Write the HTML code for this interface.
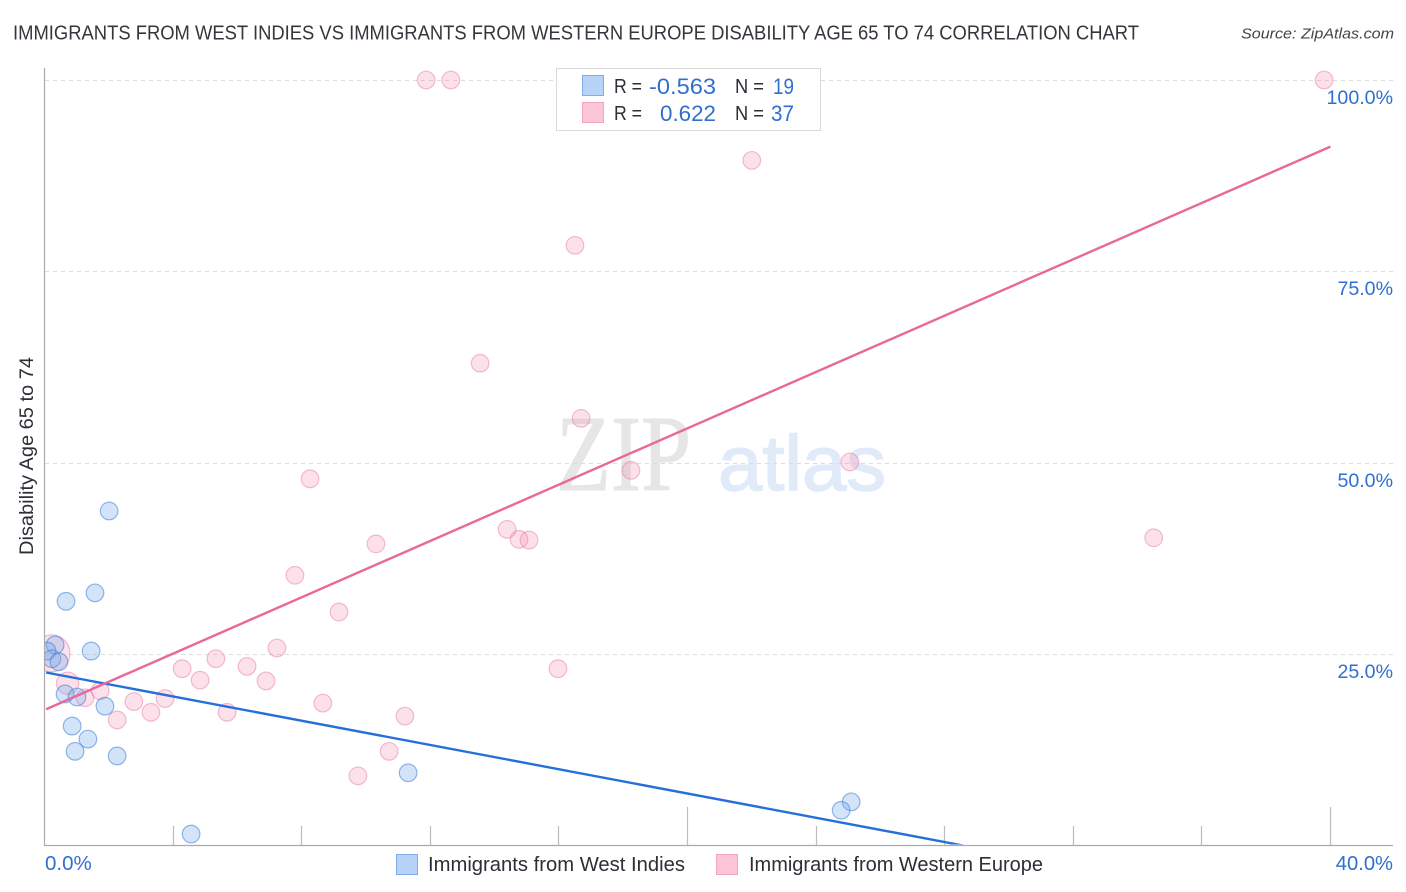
<!DOCTYPE html>
<html lang="en">
<head>
<meta charset="utf-8">
<title>Immigrants from West Indies vs Immigrants from Western Europe Disability Age 65 to 74 Correlation Chart</title>
<style>
html,body{margin:0;padding:0;background:#fff;width:1406px;height:892px;overflow:hidden}
svg{display:block;font-family:"Liberation Sans",sans-serif}
</style>
</head>
<body>
<svg id="chart" xmlns="http://www.w3.org/2000/svg" width="1406" height="892" viewBox="0 0 1406 892">
  <defs>
    <clipPath id="plot-clip"><rect x="45" y="60" width="1350" height="784.5"/></clipPath>
  </defs>
  <text x="13" y="39.5" font-size="20" fill="#33373d" textLength="1126" lengthAdjust="spacingAndGlyphs">IMMIGRANTS FROM WEST INDIES VS IMMIGRANTS FROM WESTERN EUROPE DISABILITY AGE 65 TO 74 CORRELATION CHART</text>
  <text x="1241" y="38.5" font-size="15" font-style="italic" fill="#444" textLength="153" lengthAdjust="spacingAndGlyphs">Source: ZipAtlas.com</text>

  <g>
    <text x="556" y="490" font-family="'Liberation Serif',serif" font-size="108" fill="#e6e6e6" stroke="#e6e6e6" stroke-width="1" textLength="135" lengthAdjust="spacingAndGlyphs">ZIP</text>
    <text x="718" y="490" font-size="78" fill="#e0eaf8" stroke="#e0eaf8" stroke-width="1.5" textLength="168" lengthAdjust="spacingAndGlyphs">atlas</text>
  </g>

  <g id="grid"></g>
  <g id="axes"></g>
  <g id="pink-points" clip-path="url(#plot-clip)"></g>
  <g id="blue-points" clip-path="url(#plot-clip)"></g>
  <g id="trends" clip-path="url(#plot-clip)"></g>
  <g id="labels"></g>

  <text transform="translate(33 555) rotate(-90)" font-size="19" fill="#2b2f36" textLength="198" lengthAdjust="spacingAndGlyphs">Disability Age 65 to 74</text>

  <g>
    <rect x="556.5" y="68.5" width="264" height="62" fill="#fff" stroke="#d9d9d9" stroke-width="1"/>
    <rect x="582.5" y="75.5" width="21" height="20" fill="#b8d3f8" stroke="#7fabe6" stroke-width="1"/>
    <rect x="582.5" y="102.5" width="21" height="20" fill="#fcc6d8" stroke="#f0a6bf" stroke-width="1"/>
    <g font-size="20" fill="#2b2f36">
      <text x="614" y="93" textLength="28" lengthAdjust="spacingAndGlyphs">R =</text>
      <text x="735" y="93" textLength="29" lengthAdjust="spacingAndGlyphs">N =</text>
      <text x="614" y="120" textLength="28" lengthAdjust="spacingAndGlyphs">R =</text>
      <text x="735" y="120" textLength="29" lengthAdjust="spacingAndGlyphs">N =</text>
    </g>
    <g font-size="22" fill="#2f6fd0">
      <text x="649" y="94" textLength="67" lengthAdjust="spacingAndGlyphs">-0.563</text>
      <text x="773" y="94" textLength="21" lengthAdjust="spacingAndGlyphs">19</text>
      <text x="660" y="121" textLength="56" lengthAdjust="spacingAndGlyphs">0.622</text>
      <text x="771" y="121" textLength="23" lengthAdjust="spacingAndGlyphs">37</text>
    </g>
  </g>

  <g>
    <rect x="396.5" y="854.5" width="21" height="20" fill="#b8d3f8" stroke="#7fabe6" stroke-width="1"/>
    <text x="428" y="871" font-size="20" fill="#2b2f36" textLength="257" lengthAdjust="spacingAndGlyphs">Immigrants from West Indies</text>
    <rect x="716.5" y="854.5" width="21" height="20" fill="#fcc6d8" stroke="#f0a6bf" stroke-width="1"/>
    <text x="749" y="871" font-size="20" fill="#2b2f36" textLength="294" lengthAdjust="spacingAndGlyphs">Immigrants from Western Europe</text>
  </g>
</svg>
<script>
const xDomainTicks = [0, 4, 8, 12, 16, 20, 24, 28, 32, 36, 40];
const xMajorTicks = [20, 40];
const xTickLabels = ["0.0%", "40.0%"];
const yGridValues = [25, 50, 75, 100];
const yTickLabels = ["25.0%", "50.0%", "75.0%", "100.0%"];

const westIndiesX = [2.01, 1.57, 0.67, 0.33, 1.45, 0.08, 0.23, 0.45, 0.64, 1.01, 1.88, 0.86, 1.35, 0.95, 2.26, 11.31, 25.09, 24.78, 4.56];
const westIndiesY = [43.7, 33.0, 31.9, 26.2, 25.4, 25.4, 24.4, 24.0, 19.8, 19.4, 18.2, 15.6, 13.9, 12.3, 11.7, 9.5, 5.7, 4.6, 1.5];

const westernEuropeX = [11.87, 12.64, 39.8, 22.0, 16.5, 13.55, 16.69, 18.24, 25.05, 8.26, 14.39, 14.76, 15.07, 34.5, 10.31, 7.79, 9.16, 7.23, 5.33, 6.3, 4.28, 15.97, 4.84, 6.89, 1.73, 1.26, 3.75, 2.78, 8.66, 3.31, 5.68, 11.21, 2.26, 10.72, 9.75, 0.22, 0.72];
const westernEuropeY = [100, 100, 100, 89.5, 78.4, 63, 55.8, 49, 50.1, 47.9, 41.3, 40, 39.9, 40.2, 39.4, 35.3, 30.5, 25.8, 24.4, 23.4, 23.1, 23.1, 21.6, 21.5, 20.2, 19.3, 19.2, 18.8, 18.6, 17.4, 17.4, 16.9, 16.4, 12.3, 9.1, 25.1, 21.2];
const westernEuropeWeight = [1, 1, 1, 1, 1, 1, 1, 1, 1, 1, 1, 1, 1, 1, 1, 1, 1, 1, 1, 1, 1, 1, 1, 1, 1, 1, 1, 1, 1, 1, 1, 1, 1, 1, 1, 2.1, 1.27];

const westIndiesTrendX = [0.05, 28.57];
const westIndiesTrendY = [22.6, 0];
const westernEuropeTrendX = [0.05, 40];
const westernEuropeTrendY = [17.8, 91.3];

const NS = 'http://www.w3.org/2000/svg';
function xScale(v) { return 44.5 + v * 32.15; }
function yScale(v) { return 845.5 - v * 7.655; }
function make(tag, attrs, parent) {
  const el = document.createElementNS(NS, tag);
  for (const k in attrs) el.setAttribute(k, attrs[k]);
  parent.appendChild(el);
  return el;
}

const gridG = document.getElementById('grid');
const axesG = document.getElementById('axes');
const labelsG = document.getElementById('labels');
const pinkG = document.getElementById('pink-points');
const blueG = document.getElementById('blue-points');
const trendsG = document.getElementById('trends');

yGridValues.forEach(function (v, i) {
  const y = Math.round(yScale(v)) + 0.5;
  const line = make('line', {x1: 45, x2: 1393, y1: y, y2: y, stroke: '#dcdcdc', 'stroke-width': 1, 'stroke-dasharray': '4 4'}, gridG);
  
  
  const label = make('text', {x: 1393, y: y + 23.5, 'text-anchor': 'end', 'font-size': 19.6, fill: '#2f6fd0'}, labelsG);
  label.textContent = yTickLabels[i];
  
  
});

const yAxisLine = make('line', {x1: 44.5, x2: 44.5, y1: 68, y2: 846, stroke: '#aaaaaa', 'stroke-width': 1.2}, axesG);


const xAxisLine = make('line', {x1: 44, x2: 1393, y1: 845.5, y2: 845.5, stroke: '#aaaaaa', 'stroke-width': 1.2}, axesG);



xDomainTicks.forEach(function (v) {
  if (v === 0) return;
  const x = Math.floor(xScale(v)) + 0.5;
  const top = xMajorTicks.indexOf(v) >= 0 ? 807 : 826;
  const tick = make('line', {x1: x, x2: x, y1: top, y2: 845, stroke: '#bdbdbd', 'stroke-width': 1.2}, axesG);
  
  
});

const xLabel0 = make('text', {x: 45, y: 870, 'font-size': 20.5, fill: '#2f6fd0'}, labelsG);
xLabel0.textContent = xTickLabels[0];


const xLabel1 = make('text', {x: 1393, y: 870, 'text-anchor': 'end', 'font-size': 20.2, fill: '#2f6fd0'}, labelsG);
xLabel1.textContent = xTickLabels[1];



westernEuropeX.forEach(function (v, i) {
  const c = make('circle', {cx: xScale(v), cy: yScale(westernEuropeY[i]), r: 8.8 * westernEuropeWeight[i], fill: 'rgba(244,140,175,0.26)', stroke: 'rgba(232,120,160,0.48)', 'stroke-width': 1.2}, pinkG);
  
  
});

westIndiesX.forEach(function (v, i) {
  const c = make('circle', {cx: xScale(v), cy: yScale(westIndiesY[i]), r: 8.8, fill: 'rgba(110,165,235,0.3)', stroke: 'rgba(60,125,215,0.55)', 'stroke-width': 1.2}, blueG);
  
  
});

const blueTrend = make('line', {x1: xScale(westIndiesTrendX[0]), y1: yScale(westIndiesTrendY[0]), x2: xScale(westIndiesTrendX[1]), y2: yScale(westIndiesTrendY[1]), stroke: '#2570d8', 'stroke-width': 2.4}, trendsG);


const pinkTrend = make('line', {x1: xScale(westernEuropeTrendX[0]), y1: yScale(westernEuropeTrendY[0]), x2: xScale(westernEuropeTrendX[1]), y2: yScale(westernEuropeTrendY[1]), stroke: '#e8689a', 'stroke-width': 2.4}, trendsG);


</script>
</body>
</html>
